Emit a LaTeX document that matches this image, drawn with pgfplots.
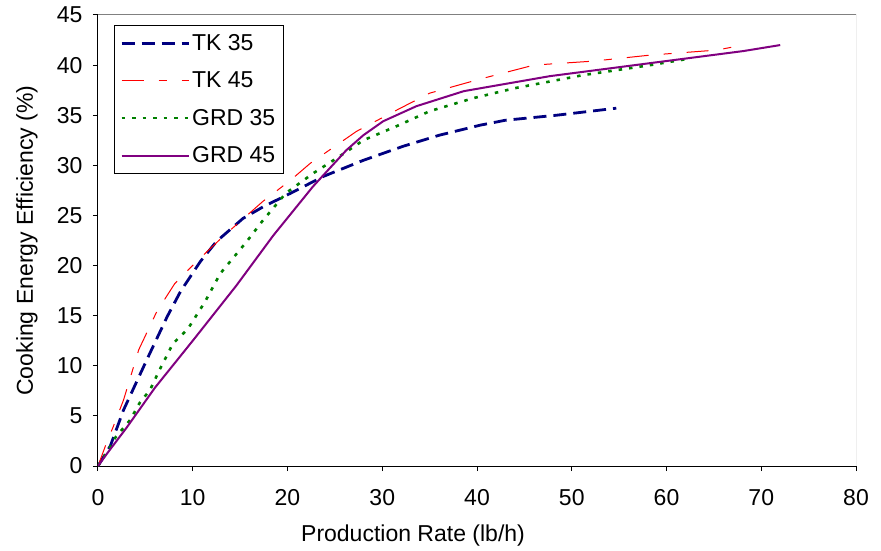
\documentclass[border=0pt]{standalone}
\usepackage{fontspec}
\setmainfont{Liberation Sans}
\usepackage{pgfplots}
\pgfplotsset{compat=1.18}
\definecolor{navyc}{RGB}{0,0,128}
\definecolor{greenc}{RGB}{0,128,0}
\definecolor{purplec}{RGB}{128,0,128}
\definecolor{redc}{RGB}{255,0,0}
\begin{document}
\begin{tikzpicture}
\begin{axis}[
  scale only axis, width=758pt, height=451pt,
  xmin=0, xmax=80, ymin=0, ymax=45,
  xtick={0,10,...,80}, ytick={0,5,...,45},
  axis lines*=left,
  axis line style={-, black, line width=1pt},
  tick align=outside, major tick length=5pt,
  tick style={black, line width=1pt},
  /pgf/number format/assume math mode=true,
  font=\fontsize{23}{27}\selectfont,
  xticklabel style={yshift=-15pt},
  yticklabel style={xshift=-7pt},
  xlabel={Production Rate (lb/h)},
  ylabel={Cooking Energy Efficiency (\%)},
  xlabel style={at={(rel axis cs:0.4156,-0.1685)}, anchor=base},
  ylabel style={at={(rel axis cs:-0.0858,0.5)}, anchor=base, rotate=0},
  legend cell align=left,
  legend style={at={(rel axis cs:0.021,0.978)}, anchor=north west,
    draw=black, line width=0.8pt, fill=white,
    font=\fontsize{23}{27}\selectfont,
    row sep=16pt, inner xsep=6pt, inner ysep=7pt},
  legend image code/.code={\draw[#1] (0pt,0pt) -- (67pt,0pt);},
]
\draw[gray, line width=1pt] (rel axis cs:0,1) -- (rel axis cs:1,1) -- (rel axis cs:1,0);

\addplot[navyc, line width=2.8pt, dash pattern=on 13pt off 7pt] coordinates {
(0,0) (1.3,2.0) (2.7,5.6) (5.3,10.9) (7.3,14.9) (8.7,17.4) (10.8,20.4) (12.5,22.4) (15.3,24.7) (17.5,25.9) (20.3,27.2) (23.8,28.9) (28,30.5) (32.2,31.9) (36,33) (40.3,34) (43,34.5) (48.4,35) (54.7,35.7)
};
\addlegendentry{TK 35}

\addplot[redc, line width=1pt, dash pattern=on 22pt off 15pt on 8pt off 15pt] coordinates {
(0,0) (0.9,2.3) (1.6,3.9) (2.7,6.6) (4.3,11.6) (6.2,15.4) (8.1,18.2) (10.4,20.4) (13.2,22.9) (17.4,26.4) (20.3,28.5) (22.4,30.2) (27.3,33.4) (31.5,35.5) (35,37.2) (40.3,38.6) (46,40) (52.3,40.4) (58.3,41) (65.3,41.5) (68.1,42)
};
\addlegendentry{TK 45}

\addplot[greenc, line width=2.6pt, dash pattern=on 3.5pt off 7pt] coordinates {
(0,0) (1.3,1.9) (1.8,2.8) (3.4,4.6) (4.4,6.3) (5.5,7.6) (6.5,9.6) (7.9,12.2) (9.5,13.7) (11.3,16.4) (12.9,19.2) (15.7,22.4) (17.4,24.5) (19.8,27.2) (22.7,29.2) (25.5,30.9) (28,32.5) (31.5,33.9) (35,35.4) (39.6,36.7) (44,37.7) (51.2,39) (58.3,40) (62.1,40.6)
};
\addlegendentry{GRD 35}

\addplot[purplec, line width=2pt] coordinates {
(0,0) (1,1.3) (3,3.8) (6,7.8) (10,12.5) (14.6,18) (18.5,23) (22.7,27.9) (26.2,31.5) (28,33) (30.1,34.4) (33.6,35.9) (38.6,37.4) (47.7,38.9) (58.3,40.2) (68.1,41.4) (72,42)
};
\addlegendentry{GRD 45}
\end{axis}
\path (current axis.south west) ++(-98pt,-84pt) coordinate (bbA);
\path (current axis.north east) ++(25pt,15pt) coordinate (bbB);
\path (bbA) rectangle (bbB);
\end{tikzpicture}
\end{document}
